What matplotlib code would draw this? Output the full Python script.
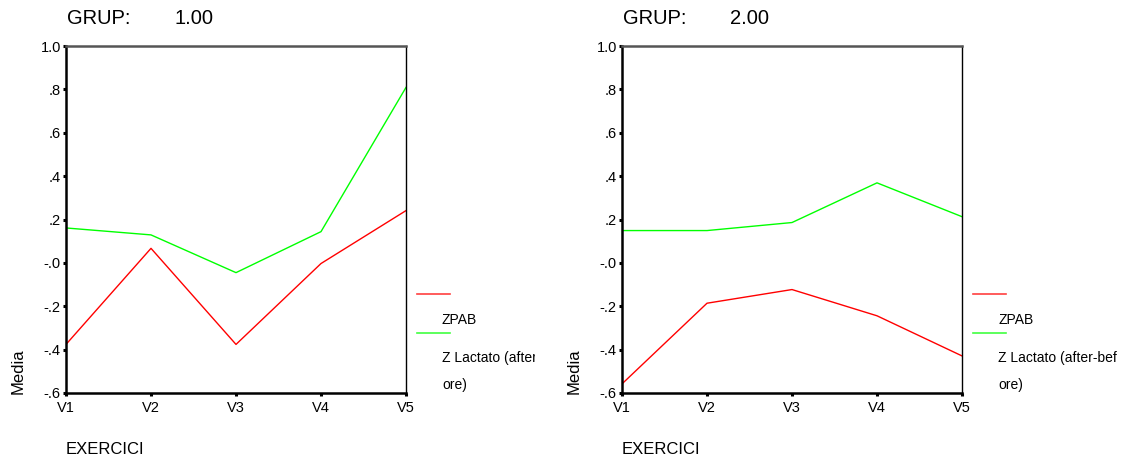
import matplotlib
matplotlib.use('Agg')
import matplotlib.pyplot as plt
from matplotlib.transforms import Bbox

plt.rcParams['font.family'] = ['Liberation Sans', 'DejaVu Sans']

exercici = ['V1', 'V2', 'V3', 'V4', 'V5']
groups = ['1.00', '2.00']
zpab = [
    [-0.376, 0.067, -0.376, -0.003, 0.241],
    [-0.558, -0.186, -0.123, -0.244, -0.429],
]
zlactato = [
    [0.161, 0.129, -0.045, 0.144, 0.809],
    [0.149, 0.149, 0.186, 0.369, 0.213],
]
yticks = [1.0, 0.8, 0.6, 0.4, 0.2, 0.0, -0.2, -0.4, -0.6]
ytick_labels = ['1.0', '.8', '.6', '.4', '.2', '-.0', '-.2', '-.4', '-.6']

W, H = 1126, 462
fig = plt.figure(figsize=(W / 100, H / 100), dpi=100)

def px(x, y):
    # pixel position (from top-left) -> figure fraction
    return x / W, 1 - y / H

panel_left = [66, 622]
clip_right = [535, 1126]

for k in range(2):
    x0 = panel_left[k]
    ax = fig.add_axes([x0 / W, 1 - 393 / H, 340 / W, 347 / H])
    ax.plot(range(5), zpab[k], color='#ff0000', lw=1)
    ax.plot(range(5), zlactato[k], color='#00ff00', lw=1)
    ax.set_xlim(0, 4)
    ax.set_ylim(-0.6, 1.0)
    ax.set_xticks(range(5))
    ax.set_xticklabels(exercici)
    ax.set_yticks(yticks)
    ax.set_yticklabels(ytick_labels)
    ax.tick_params(direction='out', length=2.2, width=2.2, labelsize=10.5,
                   color='black')
    ax.tick_params(axis='y', pad=1.5)
    ax.tick_params(axis='x', pad=3.5)
    for side in ['left', 'bottom']:
        ax.spines[side].set_linewidth(1.8)
        ax.spines[side].set_color('black')
    ax.spines['top'].set_linewidth(1.8)
    ax.spines['top'].set_color('#555555')
    ax.spines['right'].set_linewidth(1.0)
    ax.spines['right'].set_color('black')

    # group title
    fig.text(*px(x0 + 1, 18), 'GRUP:', fontsize=14.5, va='center')
    fig.text(*px(x0 + 108, 18), groups[k], fontsize=14.5, va='center')

    # axis labels
    fig.text(*px(x0, 450), 'EXERCICI', fontsize=12, va='center')
    fig.text(*px(x0 - 48, 371), 'Media', fontsize=12, rotation=90,
             va='center', ha='center')

    # legend drawn beside the axes, clipped on the right
    xr = x0 + 340
    clip = Bbox.from_extents(xr + 2, 0, clip_right[k], H)
    fig.add_artist(plt.Line2D([(xr + 11) / W, (xr + 44) / W],
                              [1 - 294 / H, 1 - 294 / H],
                              color='#ff4040', lw=1.2))
    fig.add_artist(plt.Line2D([(xr + 11) / W, (xr + 44) / W],
                              [1 - 333 / H, 1 - 333 / H],
                              color='#40ff40', lw=1.2))
    for text, y in [('ZPAB', 320), ('Z Lactato (after-bef', 358), ('ore)', 385)]:
        t = fig.text(*px(xr + 36, y), text, fontsize=10, va='center')
        t.set_clip_box(clip)
        t.set_clip_on(True)

fig.savefig('out.png', dpi=100)
